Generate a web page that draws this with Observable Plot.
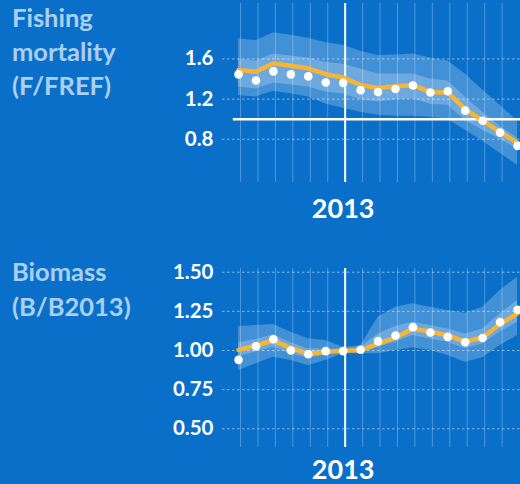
<!DOCTYPE html>
<html><head><meta charset="utf-8">
<script src="https://cdn.jsdelivr.net/npm/d3@7"></script>
<script src="https://cdn.jsdelivr.net/npm/@observablehq/plot@0.6"></script>
<style>
html,body{margin:0;padding:0;background:#0a6fc9;width:520px;height:484px;overflow:hidden;font-family:Lato,sans-serif;}
#wrap{position:relative;width:520px;height:484px;overflow:hidden;}
.panel{position:absolute;left:0;}
.title{position:absolute;left:12px;color:#abcff0;font-weight:bold;font-size:25.5px;margin:0;}
</style></head>
<body>
<div id="wrap">
  <div class="title" style="top:0px;line-height:34px">Fishing<br>mortality<br>(F/FREF)</div>
  <div class="title" style="top:254px;line-height:35px">Biomass<br>(B/B2013)</div>
  <div id="top" class="panel" style="top:0px"></div>
  <div id="bot" class="panel" style="top:265px"></div>
</div>
<script>
const years     = [2007,2008,2009,2010,2011,2012,2013,2014,2015,2016,2017,2018,2019,2020,2021,2022,2023];
const gridYears = [2007,2008,2009,2010,2011,2012,2013,2014,2015,2016,2017,2018,2019,2020,2021,2022];
const refYear = 2013;

// Fishing mortality (F/FREF)
const fHigh95 = [1.80,1.78,1.86,1.835,1.805,1.76,1.737,1.676,1.635,1.64,1.65,1.61,1.58,1.45,1.29,1.14,0.98];
const fLow95  = [1.237,1.22,1.278,1.254,1.22,1.152,1.11,1.068,1.04,1.03,1.03,1.02,1.00,0.89,0.78,0.66,0.54];
const fHigh50 = [1.60,1.58,1.65,1.63,1.61,1.565,1.55,1.50,1.45,1.45,1.45,1.40,1.38,1.22,1.07,0.93,0.81];
const fLow50  = [1.32,1.30,1.36,1.34,1.32,1.27,1.25,1.19,1.17,1.19,1.20,1.15,1.14,0.99,0.89,0.80,0.70];
const fMedian = [1.49,1.473,1.556,1.532,1.507,1.448,1.415,1.339,1.31,1.328,1.339,1.27,1.264,1.10,0.984,0.873,0.765];
const fPoint  = [1.446,1.385,1.476,1.446,1.426,1.365,1.362,1.288,1.27,1.30,1.335,1.266,1.278,1.085,0.984,0.866,0.734];
const fTicks = [0.8,1.2,1.6];
const fRef = 1.0;

// Biomass (B/B2013)
const bHigh95 = [1.153,1.16,1.166,1.117,1.075,1.064,1.02,1.03,1.213,1.276,1.298,1.276,1.255,1.238,1.276,1.383,1.468];
const bLow95  = [0.872,0.915,0.957,0.936,0.904,0.936,0.979,0.98,0.979,1.0,1.017,1.0,0.968,0.925,0.953,1.032,1.096];
const bHigh50 = [1.05,1.07,1.10,1.05,1.01,1.01,1.005,1.02,1.106,1.153,1.181,1.16,1.138,1.106,1.138,1.234,1.319];
const bLow50  = [0.96,0.99,1.02,0.98,0.95,0.97,0.995,0.99,1.021,1.053,1.096,1.074,1.053,1.011,1.043,1.117,1.181];
const bMedian = [1.004,1.032,1.064,1.015,0.979,0.99,1.0,1.002,1.043,1.083,1.138,1.121,1.096,1.057,1.083,1.168,1.237];
const bPoint  = [0.94,1.027,1.072,1.0,0.976,0.996,0.996,1.005,1.06,1.096,1.149,1.115,1.087,1.053,1.08,1.181,1.26];
const bTicks = [0.5,0.75,1.0,1.25,1.5];

function rows(lo95, hi95, lo50, hi50, mid, obs){
  return years.map((year,i)=>({year, lo95:lo95[i], hi95:hi95[i], lo50:lo50[i], hi50:hi50[i], mid:mid[i], obs:obs[i]}));
}

function panel(data, ticks, yDomain, fmt, refLine, yearPad){
  const marks = [
    Plot.ruleX(gridYears, {x:d=>d, dx:2, stroke:"#ffffff", strokeOpacity:0.28, strokeWidth:1}),
    Plot.ruleY(ticks, {y:d=>d, stroke:"#ffffff", strokeOpacity:0.5, strokeDasharray:"2.5,2.5"}),
    Plot.areaY(data, {x:"year", y1:"lo95", y2:"hi95", fill:"#ffffff", fillOpacity:0.23, clip:true}),
    Plot.areaY(data, {x:"year", y1:"lo50", y2:"hi50", fill:"#ffffff", fillOpacity:0.23, clip:true}),
  ];
  if (refLine != null) marks.push(Plot.ruleY([refLine], {x1:2006.7, x2:2023.17, stroke:"#ffffff", strokeWidth:2.5}));
  marks.push(
    Plot.ruleX([refYear], {x:d=>d, dx:2, stroke:"#ffffff", strokeWidth:2}),
    Plot.lineY(data, {x:"year", y:"mid", stroke:"#f6b536", strokeWidth:4.5, clip:true}),
    Plot.dot(data, {x:"year", y:"obs", r:4.3, fill:"#ffffff", clip:true}),
    Plot.axisY(ticks, {tickSize:0, tickPadding:9, tickFormat:fmt, fontSize:20.5, fontWeight:"bold", fill:"#ffffff", label:null}),
    Plot.axisX([refYear], {tickSize:0, tickPadding:yearPad, tickFormat:d=>String(d), fontSize:27, fontWeight:"bold", fill:"#ffffff", label:null})
  );
  return Plot.plot({
    width:520, height:230,
    marginLeft:222, marginRight:0, marginTop:3, marginBottom:48,
    x:{domain:[2006.08, 2023.17], label:null},
    y:{domain:yDomain, label:null},
    style:{background:"transparent", color:"#ffffff", fontFamily:"Lato, sans-serif", overflow:"visible"},
    marks
  });
}

document.getElementById("top").append(
  panel(rows(fLow95,fHigh95,fLow50,fHigh50,fMedian,fPoint), fTicks, [0.3696, 2.152], d=>d.toFixed(1), fRef, 16)
);
document.getElementById("bot").append(
  panel(rows(bLow95,bHigh95,bLow50,bHigh50,bMedian,bPoint), bTicks, [1.0-97/156.6, 1.0+82/156.6], d=>d.toFixed(2), null, 12)
);
</script>
</body></html>
